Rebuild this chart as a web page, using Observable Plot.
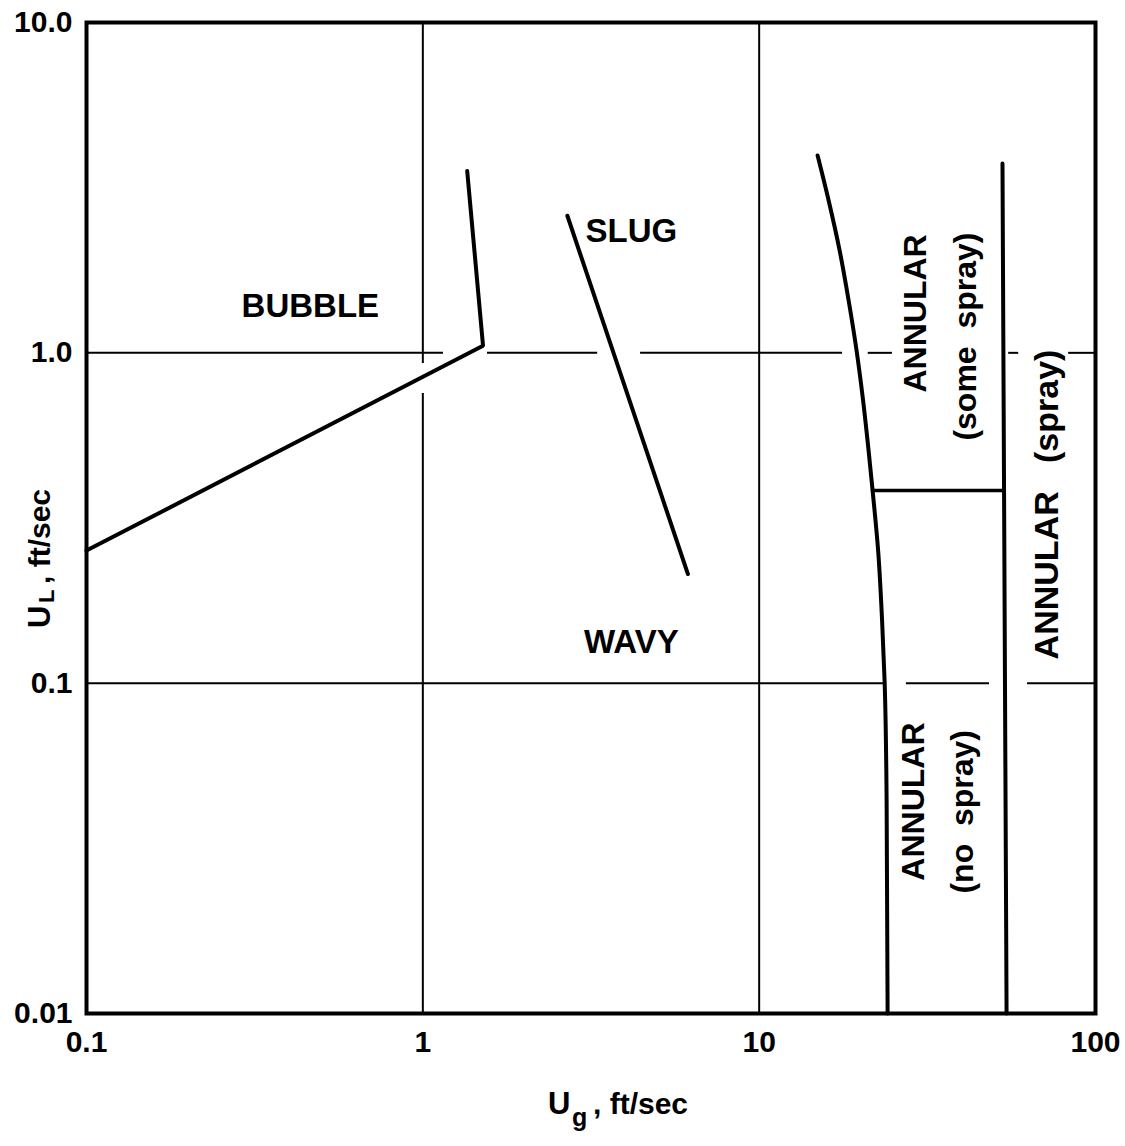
<!DOCTYPE html>
<html>
<head>
<meta charset="utf-8">
<script src="https://cdn.jsdelivr.net/npm/d3@7"></script>
<script src="https://cdn.jsdelivr.net/npm/@observablehq/plot@0.6"></script>
<style>
  html, body { margin: 0; padding: 0; background: #fff; }
  #chart { width: 1125px; height: 1146px; }
</style>
</head>
<body>
<div id="chart"></div>
<script>
// ---- Axis ticks ----
const xTicks = [0.1, 1, 10, 100];
const xTickLabels = ["0.1", "1", "10", "100"];
const yTicks = [0.01, 0.1, 1, 10];
const yTickLabels = ["0.01", "0.1", "1.0", "10.0"];

// ---- Flow-regime boundaries (Ug ft/sec, UL ft/sec) ----
const bubbleUg = [0.1, 1.51, 1.355];
const bubbleUl = [0.252, 1.05, 3.55];

const slugUg = [2.69, 6.14];
const slugUl = [2.60, 0.214];

const annularUg = [14.92, 16.09, 17.35, 18.45, 19.48, 20.37, 21.15, 21.74, 22.58, 23.20, 23.60, 23.93, 24.09];
const annularUl = [3.956, 2.892, 2.040, 1.440, 1.016, 0.717, 0.506, 0.383, 0.252, 0.1547, 0.1018, 0.0441, 0.01];

const someSprayUg = [21.74, 52.9];
const someSprayUl = [0.383, 0.383];

const sprayUg = [52.9, 54.4];
const sprayUl = [3.74, 0.01];

// ---- Grid line pieces (broken where they meet curves and labels) ----
const hGridUl   = [1, 1, 1, 1, 1, 1, 0.1, 0.1, 0.1];
const hGridFrom = [0.1, 1.557, 4.44, 21.1, 55.2, 83.2, 0.1, 27.4, 62.8];
const hGridTo   = [1.152, 3.31, 17.7, 24.9, 59.1, 100, 23.6, 48.4, 100];

const vGridUg   = [1, 1, 10];
const vGridFrom = [10, 0.753, 10];
const vGridTo   = [0.928, 0.01, 0.01];

// ---- Region labels ----
const flatLabels = ["BUBBLE", "SLUG", "WAVY"];
const flatLabelUg = [0.463, 4.17, 4.17];
const flatLabelUl = [1.38, 2.33, 0.1327];

const upLabels = ["ANNULAR", "(some\u00a0\u00a0spray)", "ANNULAR", "(no\u00a0\u00a0spray)"];
const upLabelUg = [29.2, 41.1, 28.8, 40.3];
const upLabelUl = [1.316, 1.12, 0.0438, 0.0408];

const sprayLabel = ["ANNULAR\u00a0\u00a0\u00a0(spray)"];
const sprayLabelUg = [72.0];
const sprayLabelUl = [0.3475];

// ---- build tables ----
const rows = (xs, ys) => xs.map((x, i) => ({ug: x, ul: ys[i]}));
const hGrid = hGridUl.map((v, i) => ({ul: v, from: hGridFrom[i], to: hGridTo[i]}));
const vGrid = vGridUg.map((v, i) => ({ug: v, from: vGridFrom[i], to: vGridTo[i]}));
const flat = flatLabels.map((t, i) => ({label: t, ug: flatLabelUg[i], ul: flatLabelUl[i]}));
const up = upLabels.map((t, i) => ({label: t, ug: upLabelUg[i], ul: upLabelUl[i]}));
const spray = sprayLabel.map((t, i) => ({label: t, ug: sprayLabelUg[i], ul: sprayLabelUl[i]}));

const font = "'Liberation Sans', Arial, sans-serif";

const chart = Plot.plot({
  width: 1125,
  height: 1146,
  marginTop: 22,
  marginRight: 30,
  marginBottom: 133,
  marginLeft: 86,
  style: {fontFamily: font, fontSize: "30px", fontWeight: "bold", color: "black", background: "white"},
  x: {type: "log", domain: [0.1, 100], ticks: xTicks,
      tickFormat: d => xTickLabels[xTicks.indexOf(d)], tickSize: 0, tickPadding: 17, label: null},
  y: {type: "log", domain: [0.01, 10], ticks: yTicks,
      tickFormat: d => yTickLabels[yTicks.indexOf(d)], tickSize: 0, tickPadding: 14, label: null},
  marks: [
    Plot.ruleY(hGrid, {y: "ul", x1: "from", x2: "to", stroke: "black", strokeWidth: 2}),
    Plot.ruleX(vGrid, {x: "ug", y1: "from", y2: "to", stroke: "black", strokeWidth: 2}),
    Plot.line(rows(bubbleUg, bubbleUl), {x: "ug", y: "ul", stroke: "black", strokeWidth: 4, strokeLinejoin: "miter"}),
    Plot.line(rows(slugUg, slugUl), {x: "ug", y: "ul", stroke: "black", strokeWidth: 4}),
    Plot.line(rows(annularUg, annularUl), {x: "ug", y: "ul", stroke: "black", strokeWidth: 4, curve: "monotone-y"}),
    Plot.line(rows(someSprayUg, someSprayUl), {x: "ug", y: "ul", stroke: "black", strokeWidth: 3.5}),
    Plot.line(rows(sprayUg, sprayUl), {x: "ug", y: "ul", stroke: "black", strokeWidth: 4}),
    Plot.frame({stroke: "black", strokeWidth: 4}),
    Plot.text(flat, {x: "ug", y: "ul", text: "label", fontSize: 33, fontWeight: "bold", fill: "black"}),
    Plot.text(up, {x: "ug", y: "ul", text: "label", rotate: -90, fontSize: 32, fontWeight: "bold", fill: "black"}),
    Plot.text(spray, {x: "ug", y: "ul", text: "label", rotate: -90, fontSize: 34, fontWeight: "bold", fill: "black"}),
    // x-axis title: U_g , ft/sec
    Plot.text(["U"], {frameAnchor: "bottom", text: d => d, textAnchor: "start", dx: -43, dy: 100, fontSize: 31, fontWeight: "bold"}),
    Plot.text(["g"], {frameAnchor: "bottom", text: d => d, textAnchor: "start", dx: -19, dy: 112, fontSize: 25, fontWeight: "bold"}),
    Plot.text([",\u00a0ft/sec"], {frameAnchor: "bottom", text: d => d, textAnchor: "start", dx: 2, dy: 100, fontSize: 30, fontWeight: "bold"}),
    // y-axis title: U_L , ft/sec
    Plot.text(["U"], {frameAnchor: "left", text: d => d, textAnchor: "start", rotate: -90, dx: -46, dy: 110, fontSize: 31, fontWeight: "bold"}),
    Plot.text(["L"], {frameAnchor: "left", text: d => d, textAnchor: "start", rotate: -90, dx: -40, dy: 85, fontSize: 22, fontWeight: "bold"}),
    Plot.text([",\u00a0ft/sec"], {frameAnchor: "left", text: d => d, textAnchor: "start", rotate: -90, dx: -46, dy: 66, fontSize: 30, fontWeight: "bold"})
  ]
});

document.getElementById("chart").appendChild(chart);
</script>
</body>
</html>
